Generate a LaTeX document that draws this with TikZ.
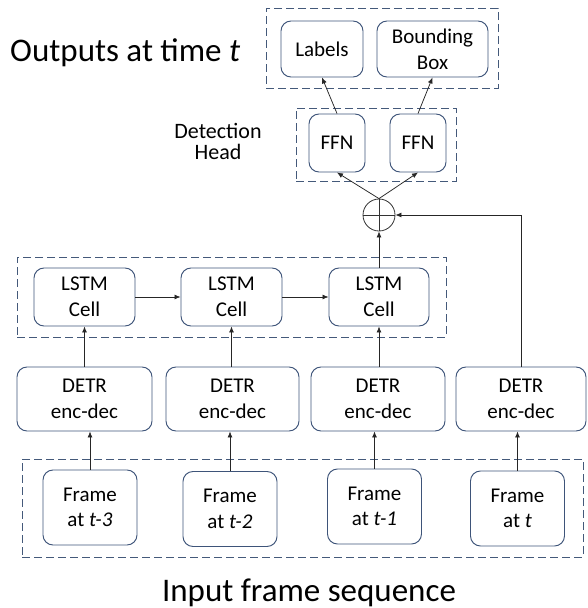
\documentclass[tikz,border=0pt]{standalone}
\usepackage{fontspec}
\setmainfont{Carlito}
\usetikzlibrary{arrows.meta}
\definecolor{boxc}{HTML}{3E5479}
\definecolor{grpc}{HTML}{44597A}
\begin{document}
\begin{tikzpicture}[x=1pt,y=-1pt,
  box/.style={draw=boxc, line width=0.95pt, rounded corners=10pt, inner sep=0pt, align=center, font=\fontsize{21}{25.6}\selectfont},
  grp/.style={draw=grpc, line width=0.95pt, dash pattern=on 8pt off 4pt, inner sep=0pt},
  arr/.style={-{Latex[length=6pt,width=5pt]}, line width=0.75pt, draw=black!85},
  fr/.style={box, minimum width=94pt, minimum height=75pt},
  dt/.style={box, minimum height=64pt},
  ls/.style={box, minimum width=101pt, minimum height=58pt},
  ffn/.style={box, minimum width=56pt, minimum height=58pt}]
\useasboundingbox (0,0) rectangle (587,608);

% group boxes
\node[grp, minimum width=232pt, minimum height=80pt] (outg) at (382,48) {};
\node[grp, minimum width=160pt, minimum height=73pt] (headg) at (376,144.5) {};
\node[grp, minimum width=429pt, minimum height=80pt] (lstmg) at (231.5,297) {};
\node[grp, minimum width=561pt, minimum height=98pt] (frg) at (302.5,508) {};

% outputs
\node[box, minimum width=82pt, minimum height=56pt] (lab) at (322,49) {Labels};
\node[box, minimum width=111pt, minimum height=56pt] (bb) at (432.5,49) {Bounding\\Box};

% detection head
\node[ffn] (f1) at (337,143) {FFN};
\node[ffn] (f2) at (418,143) {FFN};

% sum
\node[draw=black!80, line width=0.8pt, circle, minimum size=32pt, inner sep=0pt] (sum) at (379,215) {};
\draw[line width=0.8pt, black!80] (sum.north) -- (sum.south) (sum.west) -- (sum.east);

% LSTM
\node[ls] (l1) at (84.5,297) {LSTM\\Cell};
\node[ls] (l2) at (231.5,297) {LSTM\\Cell};
\node[ls, minimum width=100pt] (l3) at (379,297) {LSTM\\Cell};

% DETR
\node[dt, minimum width=135pt] (d1) at (84.5,399) {DETR\\enc-dec};
\node[dt, minimum width=133pt] (d2) at (232.5,399) {DETR\\enc-dec};
\node[dt, minimum width=134pt] (d3) at (378,399) {DETR\\enc-dec};
\node[dt, minimum width=130pt] (d4) at (521,399) {DETR\\enc-dec};

% frames
\node[fr] (fr1) at (90,507.5) {Frame\\at \textit{t-3}};
\node[fr] (fr2) at (230,509) {Frame\\at \textit{t-2}};
\node[fr] (fr3) at (374.5,506.5) {Frame\\at \textit{t-1}};
\node[fr] (fr4) at (517.5,508.5) {Frame\\at \textit{t}};

% texts
\node[anchor=base west, font=\fontsize{33}{40}\selectfont, inner sep=0pt] (outtxt) at (10,61) {Outputs at time \textit{t}};
\node[align=center, font=\fontsize{22}{21}\selectfont, inner sep=0pt] (dettxt) at (218,141) {Detection\\Head};
\node[anchor=base, font=\fontsize{33}{40}\selectfont, inner sep=0pt] (intxt) at (309,601) {Input frame sequence};

% arrows
\foreach \i in {1,2,3,4} {
  \draw[arr] (fr\i.north) -- (fr\i.north |- d\i.south);
}
\foreach \i in {1,2,3} {
  \draw[arr] (l\i.south |- d\i.north) -- (l\i.south);
}
\draw[arr] (l1.east) -- (l2.west);
\draw[arr] (l2.east) -- (l3.west);
\draw[arr] (l3.north) -- (sum.south);
\draw[arr] (d4.north) -- (d4.north |- sum.east) -- (sum.east);
\draw[arr] (sum.north) -- (f1.south);
\draw[arr] (sum.north) -- (f2.south);
\draw[arr] (f1.north) -- (lab.south);
\draw[arr] (f2.north) -- (bb.south);
\end{tikzpicture}
\end{document}
